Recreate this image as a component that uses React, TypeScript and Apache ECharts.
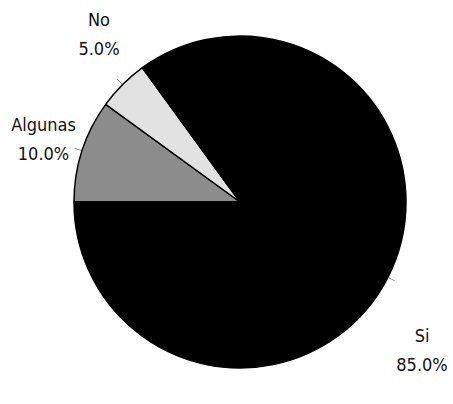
import React, { useEffect, useRef } from "react";
import * as echarts from "echarts";

const categories = ["Algunas", "No", "Si"];
const values = [10, 5, 85];
const colors = ["#8c8c8c", "#e2e2e2", "#000000"];
const labelShiftX = [6, 19, -10];
const labelShiftY = [-9, -45, 69];

export default function App() {
  const ref = useRef<HTMLDivElement>(null);
  useEffect(() => {
    if (!ref.current) return;
    const chart = echarts.init(ref.current, null, { renderer: "svg" });
    chart.setOption({
      animation: false,
      backgroundColor: "#ffffff",
      series: [
        {
          type: "pie",
          center: [240, 202],
          radius: 166,
          startAngle: 180,
          clockwise: true,
          avoidLabelOverlap: false,
          itemStyle: { borderColor: "#000", borderWidth: 1.5 },
          label: {
            show: true,
            position: "outside",
            fontFamily: "DejaVu Sans Condensed, Liberation Sans Narrow, Liberation Sans",
            fontSize: 18,
            color: "#111",
            formatter: (p: any) => `{a|${p.name}}\n{a|${p.percent.toFixed(1)}%}`,
            rich: {
              a: {
                fontFamily: "DejaVu Sans Condensed, Liberation Sans Narrow, Liberation Sans",
                fontSize: 18,
                color: "#111",
                width: 64,
                align: "center",
                lineHeight: 29,
              },
            },
          },
          labelLine: {
            show: true,
            length: 8,
            length2: 0,
            lineStyle: { color: "#999", width: 1 },
          },
          labelLayout: (p: any) => ({
            dx: labelShiftX[p.dataIndex],
            dy: labelShiftY[p.dataIndex],
          }),
          data: categories.map((c, i) => ({
            name: c,
            value: values[i],
            itemStyle: { color: colors[i] },
          })),
        },
      ],
    });
    return () => chart.dispose();
  }, []);
  return (
    <div
      ref={ref}
      style={{ position: "fixed", left: 0, top: 0, width: 453, height: 404 }}
    />
  );
}
